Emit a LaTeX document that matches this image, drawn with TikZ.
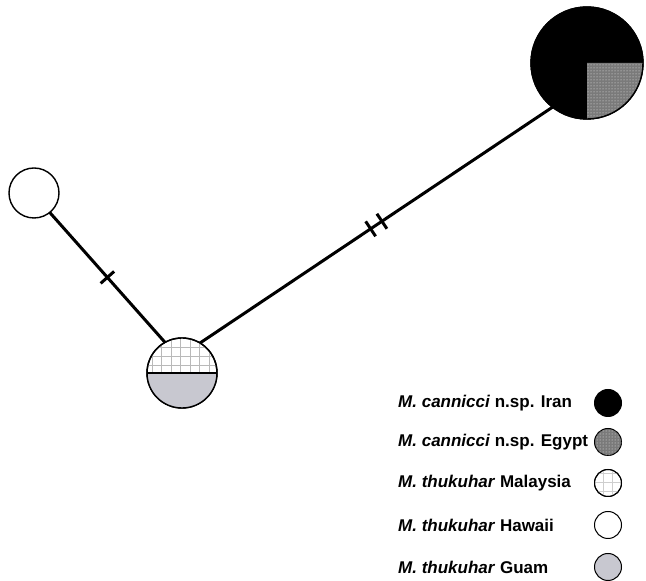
\documentclass[tikz,border=0pt]{standalone}
\usepackage{fontspec}
\setmainfont{Liberation Sans}
\usetikzlibrary{patterns}

\definecolor{guamgray}{RGB}{200,200,208}
\definecolor{gridgray}{RGB}{185,185,185}

\begin{document}
\begin{tikzpicture}[
  x=1pt, y=1pt,
  hap/.style={draw, circle, line width=1.4pt, inner sep=0pt, outer sep=0pt},
  branch/.style={draw, line width=3pt},
  mut/.style={fill=black, rectangle, sloped, minimum width=3pt, minimum height=18pt, inner sep=0pt},
  egypt/.style={fill=black!52, postaction={pattern=dots, pattern color=white!85!gray}},
  label/.style={anchor=west, font=\bfseries\fontsize{17}{20}\selectfont, inner sep=0pt}
]
\useasboundingbox (0,0) rectangle (646,581);

% Haplotypes
\node[hap, fill=black, minimum size=112pt] (iran) at (587,518) {};
\fill[egypt] (iran.center) -- ++(56,0) arc[start angle=0, end angle=-90, radius=56] -- cycle;
\draw[line width=1.4pt] (iran) circle[radius=56];

\node[hap, fill=white, minimum size=50pt] (hawaii) at (34,388) {};

\node[hap, minimum size=70pt] (malgu) at (182,208) {};
\begin{scope}
  \clip (malgu.center) circle[radius=35];
  \fill[guamgray] (147,173) rectangle (217,208);
  \draw[gridgray, line width=0.8pt] (147,208) grid[xstep=9.5, ystep=9] (217,243);
\end{scope}
\draw[line width=1.6pt] (malgu.west) -- (malgu.east);
\draw[line width=1.4pt] (malgu) circle[radius=35];

% Branches
\draw[branch] (hawaii.309) -- (malgu.119)
  node[mut, pos=0.5] {};
\draw[branch] (malgu.59) -- (iran.232)
  node[mut, pos=0.484] {} node[mut, pos=0.516] {};

% Legend
\node[label] (l1) at (398,178) {\textit{M. cannicci} n.sp. Iran};
\node[label] (l2) at (398,139) {\textit{M. cannicci} n.sp. Egypt};
\node[label] (l3) at (398,98) {\textit{M. thukuhar} Malaysia};
\node[label] (l4) at (398,56) {\textit{M. thukuhar} Hawaii};
\node[label] (l5) at (398,14) {\textit{M. thukuhar} Guam};

\node[hap, line width=1pt, fill=black, minimum size=27pt] (k1) at (608,178) {};
\node[hap, line width=1pt, egypt, minimum size=27pt] (k2) at (608,139) {};
\node[hap, line width=1pt, minimum size=27pt] (k3) at (608,98) {};
\begin{scope}
  \clip (k3.center) circle[radius=13];
  \draw[gridgray!70, line width=0.8pt] (595,85) grid[step=9] (622,112);
\end{scope}
\draw[line width=1pt] (k3) circle[radius=13.5];
\node[hap, line width=1pt, fill=white, minimum size=27pt] (k4) at (608,56) {};
\node[hap, line width=1pt, fill=guamgray, minimum size=27pt] (k5) at (608,14) {};

\end{tikzpicture}
\end{document}
